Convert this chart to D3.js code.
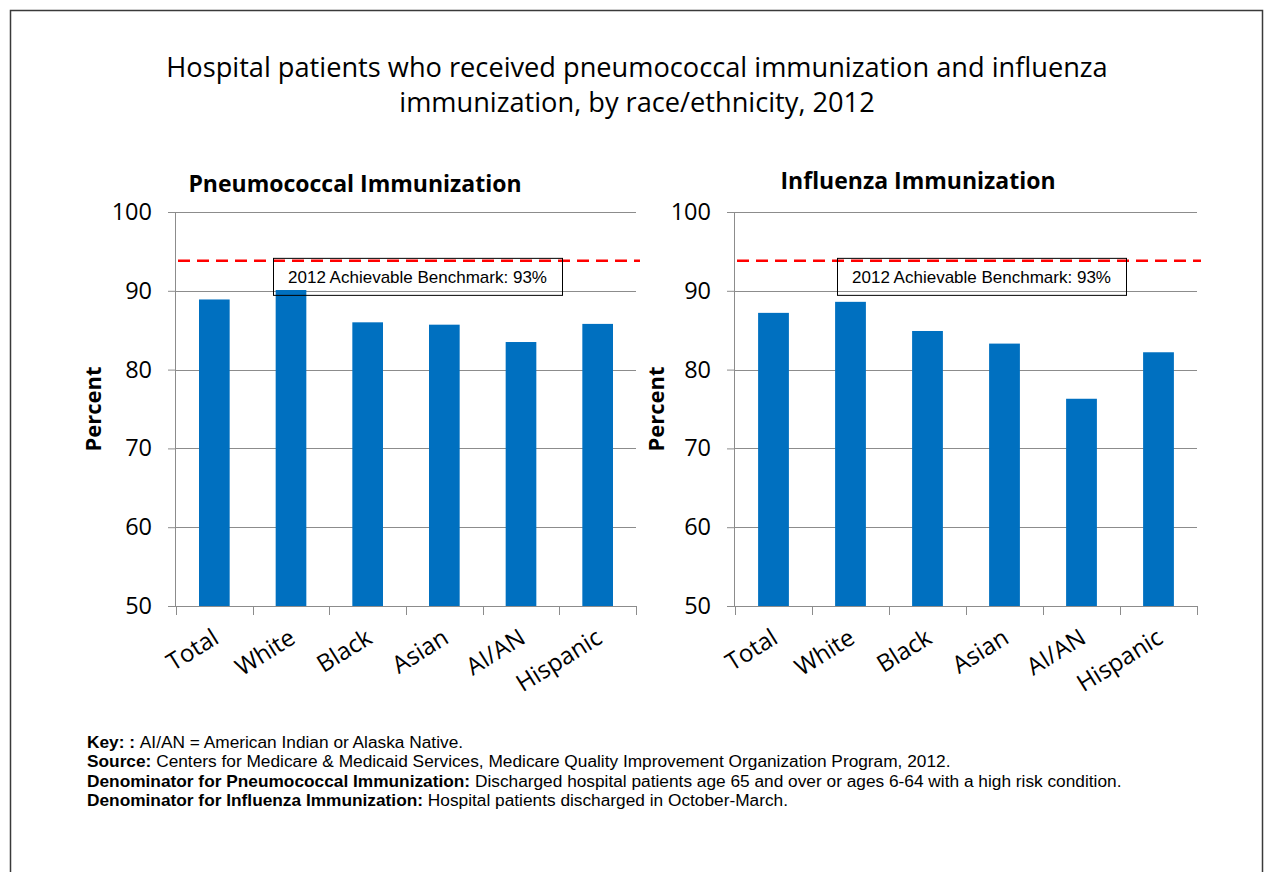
<!DOCTYPE html>
<html>
<head>
<meta charset="utf-8">
<script src="https://cdn.jsdelivr.net/npm/d3@7"></script>
<style>
  html, body { margin: 0; padding: 0; background: #fff; }
  svg { display: block; }
  .tick text { font-family: "Open Sans", sans-serif; fill: #000; }
  .foot { font-family: "Liberation Sans", Arial, sans-serif; font-size: 17.3px; fill: #000; }
</style>
</head>
<body>
<div id="chart"></div>
<script>
// ── Data ────────────────────────────────────────────────────────────────
const categories = ["Total", "White", "Black", "Asian", "AI/AN", "Hispanic"];
const pneumococcalValues = [88.9, 90.1, 86.0, 85.7, 83.5, 85.8];
const influenzaValues = [87.2, 88.6, 84.9, 83.3, 76.3, 82.2];
const yTicks = [50, 60, 70, 80, 90, 100];
const benchmarkLevel = 93.8;
const benchmarkLabel = "2012 Achievable Benchmark: 93%";

const titleLines = [
  "Hospital patients who received pneumococcal immunization and influenza",
  "immunization, by race/ethnicity, 2012",
];

const footnotes = [
  ["Key: : ", "AI/AN = American Indian or Alaska Native."],
  ["Source: ", "Centers for Medicare & Medicaid Services, Medicare Quality Improvement Organization Program, 2012."],
  ["Denominator for Pneumococcal Immunization: ", "Discharged hospital patients age 65 and over or ages 6-64 with a high risk condition."],
  ["Denominator for Influenza Immunization: ", "Hospital patients discharged in October-March."],
];

// ── SVG ─────────────────────────────────────────────────────────────────
const W = 1264, H = 872;
const svg = d3.select("#chart").append("svg").attr("width", W).attr("height", H);

// outer frame
svg.append("rect")
  .attr("x", 10.5).attr("y", 10.5)
  .attr("width", 1252).attr("height", 900)
  .attr("fill", "none").attr("stroke", "#3a3a3a").attr("stroke-width", 1.5);

// ── Title ───────────────────────────────────────────────────────────────
svg.append("g").selectAll("text")
  .data(titleLines)
  .join("text")
  .attr("x", 637)
  .attr("y", (d, i) => 77 + i * 35)
  .attr("text-anchor", "middle")
  .style("font-family", "'Open Sans', sans-serif")
  .style("font-size", "27.2px")
  .text((d) => d);

// ── Panel ───────────────────────────────────────────────────────────────
function drawPanel(opts) {
  const { left, right, top, bottom, values, subtitle, subX, subY, labelX, boxX } = opts;
  const width = right - left;
  const height = bottom - top;

  const g = svg.append("g").attr("transform", `translate(${left},${top})`);

  const x = d3.scaleBand().domain(categories).range([0, width])
    .paddingInner(0.6).paddingOuter(0.3);
  const y = d3.scaleLinear().domain([50, 100]).range([height, 0]);

  // grid
  g.append("g")
    .selectAll("line")
    .data(yTicks.filter((t) => t > 50))
    .join("line")
    .attr("x1", 0).attr("x2", width)
    .attr("y1", (d) => Math.round(y(d)) + 0.5).attr("y2", (d) => Math.round(y(d)) + 0.5)
    .attr("stroke", "#8c8c8c").attr("stroke-width", 1);

  // y axis
  const ya = g.append("g")
    .call(d3.axisLeft(y).tickValues(yTicks).tickSize(8).tickPadding(16).tickFormat(d3.format("d")));
  ya.select(".domain").attr("stroke", "#8c8c8c").attr("d", `M-0.5,${height}V0`);
  ya.selectAll(".tick line").attr("stroke", "#8c8c8c");
  ya.selectAll(".tick text").style("font-size", "23.5px");

  // x axis (ticks at band boundaries)
  const xa = g.append("g").attr("transform", `translate(0,${height})`);
  xa.append("line").attr("x1", 0).attr("x2", width).attr("y1", 0.5).attr("y2", 0.5)
    .attr("stroke", "#8c8c8c");
  const bounds = d3.range(categories.length + 1).map((i) => i * width / categories.length);
  xa.selectAll(".xt")
    .data(bounds)
    .join("line")
    .attr("class", "xt")
    .attr("x1", (d) => Math.round(d) + 0.5).attr("x2", (d) => Math.round(d) + 0.5)
    .attr("y1", 0).attr("y2", 9)
    .attr("stroke", "#8c8c8c");

  xa.selectAll(".xl")
    .data(categories)
    .join("text")
    .attr("class", "xl")
    .attr("text-anchor", "end")
    .attr("transform", (d) => `translate(${x(d) + x.bandwidth() / 2 + 6},${36}) rotate(-32)`)
    .style("font-family", "'Open Sans', sans-serif")
    .style("font-size", "24px")
    .text((d) => d);

  // bars
  g.selectAll(".bar")
    .data(categories.map((c, i) => ({ c, v: values[i] })))
    .join("rect")
    .attr("class", "bar")
    .attr("x", (d) => x(d.c))
    .attr("width", x.bandwidth())
    .attr("y", (d) => y(d.v))
    .attr("height", (d) => height - y(d.v))
    .attr("fill", "#0070C0");

  // benchmark line
  g.append("line")
    .attr("x1", 2).attr("x2", width + 4)
    .attr("y1", y(benchmarkLevel)).attr("y2", y(benchmarkLevel))
    .attr("stroke", "#FF0000").attr("stroke-width", 2.5)
    .attr("stroke-dasharray", "12,7");

  // benchmark box
  const bw = 289, by = y(benchmarkLevel) - 3, bh = 37;
  g.append("rect")
    .attr("x", boxX + 0.5).attr("y", by + 0.5).attr("width", bw).attr("height", bh)
    .attr("fill", "none").attr("stroke", "#000").attr("stroke-width", 1);
  g.append("text")
    .attr("x", boxX + bw / 2).attr("y", by + 25)
    .attr("text-anchor", "middle")
    .style("font-family", "'Liberation Sans', Arial, sans-serif")
    .style("font-size", "17px")
    .text(benchmarkLabel);

  // subtitle
  svg.append("text")
    .attr("x", subX).attr("y", subY)
    .attr("text-anchor", "middle")
    .style("font-family", "'Open Sans', sans-serif")
    .style("font-weight", "bold")
    .style("font-size", "23px")
    .text(subtitle);

  // y label
  svg.append("text")
    .attr("transform", `translate(${labelX},${top + height / 2}) rotate(-90)`)
    .attr("text-anchor", "middle")
    .style("font-family", "'Open Sans', sans-serif")
    .style("font-weight", "bold")
    .style("font-size", "22px")
    .text("Percent");
}

drawPanel({
  left: 176, right: 636, top: 212, bottom: 606,
  values: pneumococcalValues, subtitle: "Pneumococcal Immunization",
  subX: 355, subY: 192, labelX: 101, boxX: 97,
});

drawPanel({
  left: 735, right: 1197, top: 212, bottom: 606,
  values: influenzaValues, subtitle: "Influenza Immunization",
  subX: 918, subY: 189, labelX: 664, boxX: 102,
});

// ── Footnotes ───────────────────────────────────────────────────────────
const foot = svg.append("g");
footnotes.forEach((f, i) => {
  const t = foot.append("text").attr("class", "foot").attr("x", 87).attr("y", 748 + i * 19.3);
  t.append("tspan").style("font-weight", "bold").text(f[0]);
  t.append("tspan").text(f[1]);
});
</script>
</body>
</html>
